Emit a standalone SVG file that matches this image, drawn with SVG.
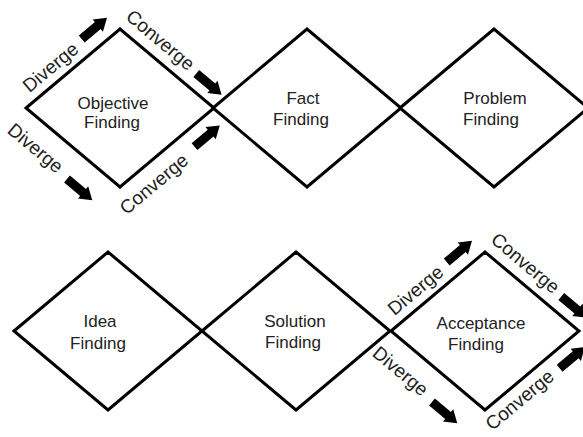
<svg xmlns="http://www.w3.org/2000/svg" width="583" height="437" viewBox="0 0 583 437">
<style>
  .dia { fill: #ffffff; stroke: #000000; stroke-width: 3; stroke-linejoin: miter; }
  .lbl { font-family: "Liberation Sans", Arial, sans-serif; font-size: 17px; fill: #222222; text-anchor: middle; }
  .dc { font-family: "Liberation Sans", Arial, sans-serif; font-size: 19px; fill: #222222; text-anchor: middle; }
  .arr { fill: #000000; }
</style>
<defs>
  <path id="blockArrow" class="arr" d="M0,-4.5 H21 V-8 L33,0 L21,8 V4.5 H0 Z"/>
</defs>
<rect width="583" height="437" fill="#ffffff"/>

<g id="node-objective-finding">
  <polygon class="dia" points="26,108 120,29 214,108 120,187"/>
  <text class="lbl" x="113" y="109">Objective</text>
  <text class="lbl" x="112" y="128">Finding</text>
</g>
<g id="node-fact-finding">
  <polygon class="dia" points="213,108 307,29 401,108 307,187"/>
  <text class="lbl" x="303" y="104">Fact</text>
  <text class="lbl" x="301" y="125">Finding</text>
</g>
<g id="node-problem-finding">
  <polygon class="dia" points="400,108 494,29 588,108 494,187"/>
  <text class="lbl" x="495" y="104">Problem</text>
  <text class="lbl" x="491" y="125">Finding</text>
</g>
<g id="node-idea-finding">
  <polygon class="dia" points="14,331 108,252 202,331 108,410"/>
  <text class="lbl" x="100" y="327">Idea</text>
  <text class="lbl" x="98" y="349">Finding</text>
</g>
<g id="node-solution-finding">
  <polygon class="dia" points="202,331 296,252 390,331 296,410"/>
  <text class="lbl" x="295" y="327">Solution</text>
  <text class="lbl" x="293" y="348">Finding</text>
</g>
<g id="node-acceptance-finding">
  <polygon class="dia" points="391,331 485,252 579,331 485,410"/>
  <text class="lbl" x="481" y="329">Acceptance</text>
  <text class="lbl" x="476" y="350">Finding</text>
</g>

<g id="connectors">
  <g id="dc-objective">
    <g transform="translate(26,108) rotate(-40)">
      <text class="dc" x="45" y="-9">Diverge</text>
      <use href="#blockArrow" x="87" y="-17"/>
    </g>
    <g transform="translate(120,29) rotate(40)">
      <text class="dc" x="38" y="-11">Converge</text>
      <use href="#blockArrow" x="87" y="-15"/>
    </g>
    <g transform="translate(26,108) rotate(40)">
      <text class="dc" x="33" y="31">Diverge</text>
      <use href="#blockArrow" x="77" y="28"/>
    </g>
    <g transform="translate(120,187) rotate(-40)">
      <text class="dc" x="28" y="26">Converge</text>
      <use href="#blockArrow" x="83" y="17"/>
    </g>
  </g>
  <g id="dc-acceptance" transform="translate(365,223)">
    <g transform="translate(26,108) rotate(-40)">
      <text class="dc" x="45" y="-9">Diverge</text>
      <use href="#blockArrow" x="87" y="-17"/>
    </g>
    <g transform="translate(120,29) rotate(40)">
      <text class="dc" x="38" y="-11">Converge</text>
      <use href="#blockArrow" x="87" y="-15"/>
    </g>
    <g transform="translate(26,108) rotate(40)">
      <text class="dc" x="33" y="31">Diverge</text>
      <use href="#blockArrow" x="77" y="28"/>
    </g>
    <g transform="translate(120,187) rotate(-40)">
      <text class="dc" x="33" y="21">Converge</text>
      <use href="#blockArrow" x="84" y="16"/>
    </g>
  </g>
</g>
</svg>
